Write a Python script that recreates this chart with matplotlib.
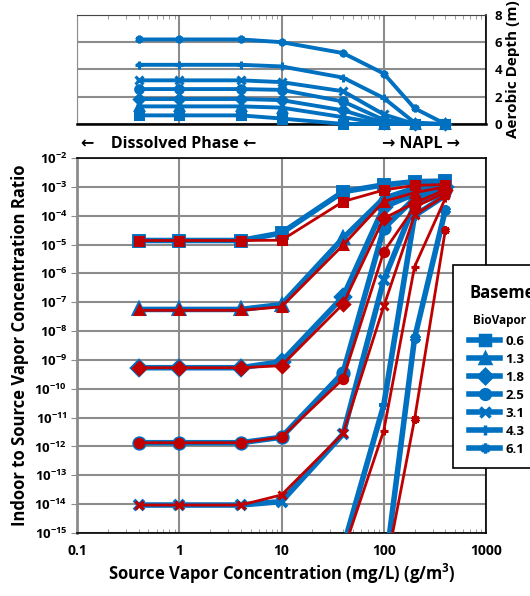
import numpy as np
import matplotlib
matplotlib.use('Agg')
import matplotlib.pyplot as plt
from matplotlib.lines import Line2D
from matplotlib.patches import Rectangle

plt.rcParams['font.family'] = ['Open Sans', 'DejaVu Sans']
plt.rcParams['mathtext.fontset'] = 'custom'
plt.rcParams['mathtext.bf'] = 'Open Sans:bold'
plt.rcParams['mathtext.rm'] = 'Open Sans'

# source vapor concentration (mg/L)
conc = [0.4, 1, 4, 10, 40, 100, 200, 400]
depth_labels = ['0.6', '1.3', '1.8', '2.5', '3.1', '4.3', '6.1']
markers = ['s', '^', 'D', 'o', 'x', '+', (6, 2, 0)]

# aerobic depth (m), top panel
d06 = [0.63, 0.63, 0.63, 0.40, 0.0, 0.0, 0.0, 0.0]
d13 = [1.29, 1.29, 1.29, 1.20, 0.5, 0.0, 0.0, 0.0]
d18 = [1.83, 1.83, 1.83, 1.75, 1.0, 0.1, 0.0, 0.0]
d25 = [2.56, 2.56, 2.56, 2.50, 1.65, 0.3, 0.0, 0.0]
d31 = [3.20, 3.20, 3.20, 3.07, 2.4, 0.7, 0.0, 0.0]
d43 = [4.34, 4.34, 4.34, 4.22, 3.4, 1.9, 0.1, 0.0]
d61 = [6.20, 6.20, 6.20, 6.00, 5.2, 3.7, 1.15, 0.0]

# log10 of indoor/source ratio, BioVapor (blue)
b06 = [-4.86, -4.86, -4.86, -4.60, -3.17, -2.93, -2.82, -2.80]
b13 = [-7.25, -7.25, -7.25, -7.08, -4.78, -3.40, -3.05, -2.90]
b18 = [-9.27, -9.27, -9.27, -9.06, -6.81, -3.70, -3.25, -3.00]
b25 = [-11.87, -11.87, -11.87, -11.68, -9.44, -4.44, -3.40, -3.10]
b31 = [-14.03, -14.03, -14.03, -13.91, -11.57, -6.23, -3.60, -3.20]
b43 = [-16.5, -16.5, -16.5, -16.4, -15.5, -10.56, -4.00, -3.30]
b61 = [-19.0, -19.0, -19.0, -18.9, -18.0, -16.6, -8.25, -3.80]

# log10 of indoor/source ratio, second model (red)
r06 = [-4.86, -4.86, -4.86, -4.85, -3.51, -3.11, -2.95, -2.92]
r13 = [-7.28, -7.28, -7.28, -7.16, -5.02, -3.51, -3.20, -3.00]
r18 = [-9.27, -9.27, -9.27, -9.20, -7.06, -4.09, -3.56, -3.10]
r25 = [-11.87, -11.87, -11.87, -11.68, -9.66, -5.25, -3.70, -3.20]
r31 = [-14.03, -14.03, -14.03, -13.68, -11.55, -7.14, -3.98, -3.30]
r43 = [-16.5, -16.5, -16.5, -16.4, -15.66, -11.45, -5.77, -3.40]
r61 = [-19.0, -19.0, -19.0, -18.9, -18.0, -16.6, -11.06, -4.50]

depths = [d06, d13, d18, d25, d31, d43, d61]
blue = [b06, b13, b18, b25, b31, b43, b61]
red = [r06, r13, r18, r25, r31, r43, r61]

BLUE = '#0070C0'
RED = '#C00000'
GRID = '#8c8c8c'

fig = plt.figure(figsize=(5.3, 5.96), dpi=100)
ax_top = fig.add_axes([0.1453, 0.792, 0.7717, 0.183])
ax = fig.add_axes([0.1453, 0.1057, 0.7717, 0.6292])

# ---- top panel: aerobic depth
for d, m in zip(depths, markers):
    ax_top.plot(conc, d, color=BLUE, lw=2.8, marker=m, ms=5.5, mew=2.2, clip_on=False, zorder=3)
ax_top.set_xscale('log')
ax_top.set_xlim(0.1, 1000)
ax_top.set_ylim(0, 8)
ax_top.set_yticks([0, 2, 4, 6, 8])
ax_top.yaxis.tick_right()
ax_top.yaxis.set_label_position('right')
ax_top.set_ylabel('Aerobic Depth (m)', fontsize=11, fontweight='bold', labelpad=3)
for t in ax_top.get_yticklabels():
    t.set_fontweight('bold')
ax_top.tick_params(axis='y', labelsize=9.5, length=0, pad=6)
ax_top.xaxis.tick_top()
ax_top.tick_params(axis='x', which='major', length=0, labeltop=False)
ax_top.tick_params(axis='x', which='minor', direction='in', length=3, color=GRID)
ax_top.grid(True, which='major', color=GRID, lw=1.5)
ax_top.spines['left'].set_color(GRID)
ax_top.spines['top'].set_color('#444444')
ax_top.spines['bottom'].set_linewidth(1.8)
ax_top.spines['right'].set_linewidth(1.2)

# ---- main panel: indoor/source ratio
for b, m in zip(blue, markers):
    ax.plot(conc, np.power(10.0, b), color=BLUE, lw=4, marker=m, ms=7.5, mew=2.8, zorder=3)
for r, m in zip(red, markers):
    ax.plot(conc, np.power(10.0, r), color=RED, lw=2, marker=m, ms=6, mew=2.2, zorder=4)
ax.set_xscale('log')
ax.set_yscale('log')
ax.set_xlim(0.1, 1000)
ax.set_ylim(1e-15, 1e-2)
yt = [10.0 ** k for k in range(-15, -1)]
ax.set_yticks(yt)
ax.set_yticklabels([r'$\mathbf{10^{%d}}$' % k for k in range(-15, -1)], fontsize=9.5)
ax.set_yticks([], minor=True)
ax.set_xticks([0.1, 1, 10, 100, 1000])
ax.set_xticklabels(['0.1', '1', '10', '100', '1000'], fontsize=10, fontweight='bold')
ax.tick_params(axis='x', which='major', length=0, pad=8)
ax.tick_params(axis='x', which='minor', direction='in', length=3, color=GRID)
ax.tick_params(axis='y', which='major', length=4, color=GRID, pad=3)
ax.grid(True, which='major', color=GRID, lw=1.5)
ax.spines['left'].set_color(GRID)
ax.spines['left'].set_linewidth(2)
for s in ['top', 'right', 'bottom']:
    ax.spines[s].set_linewidth(1.2)
ax.set_xlabel('Source Vapor Concentration (mg/L) (g/m$^\\mathbf{3}$)', fontsize=12, fontweight='bold', labelpad=3)
ax.set_ylabel('Indoor to Source Vapor Concentration Ratio', fontsize=12, fontweight='bold', labelpad=4)

# phase annotations between panels
fig.text(0.152, 0.758, '\u2190    Dissolved Phase \u2190', fontsize=11.5, fontweight='bold', va='center')
fig.text(0.72, 0.758, '\u2192 NAPL \u2192', fontsize=11.5, fontweight='bold', va='center')

# legend box (runs off the right edge like the original)
fig.patches.append(Rectangle((0.855, 0.215), 0.3, 0.34, transform=fig.transFigure,
                             facecolor='white', edgecolor='black', lw=1.2, zorder=10))
fig.text(0.885, 0.508, 'Basement', fontsize=12, fontweight='bold', va='center', zorder=11)
fig.text(0.893, 0.463, 'BioVapor', fontsize=8.5, fontweight='bold', va='center', zorder=11)
handles = [Line2D([], [], color=BLUE, lw=4, marker=m, ms=7, mew=2.5) for m in markers]
leg = fig.legend(handles, depth_labels, loc='upper left', bbox_to_anchor=(0.872, 0.449),
                 frameon=False, prop={'weight': 'bold', 'size': 9.5},
                 handlelength=2.4, labelspacing=0.38, borderpad=0, handletextpad=0.4)
leg.set_zorder(12)

fig.savefig('out.png', dpi=100)
